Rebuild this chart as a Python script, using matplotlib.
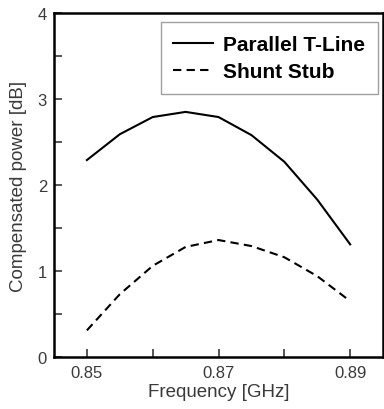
import matplotlib
matplotlib.use("Agg")
import matplotlib.pyplot as plt

plt.rcParams['font.family'] = ['Liberation Sans', 'DejaVu Sans']

freq = [0.85, 0.855, 0.86, 0.865, 0.87, 0.875, 0.88, 0.885, 0.89]
parallel_tline = [2.29, 2.59, 2.79, 2.85, 2.79, 2.58, 2.27, 1.83, 1.31]
shunt_stub = [0.31, 0.73, 1.06, 1.28, 1.36, 1.29, 1.16, 0.94, 0.65]

x_ticks = [0.85, 0.86, 0.87, 0.88, 0.89]
x_labels = ["0.85", "", "0.87", "", "0.89"]
y_ticks = [0, 1, 2, 3, 4]

fig = plt.figure(figsize=(3.84, 4.10), dpi=100)
ax = fig.add_axes([0.1406, 0.1268, 0.857, 0.8391])

ax.plot(freq, parallel_tline, color="black", lw=1.5, label="Parallel T-Line")
ax.plot(freq, shunt_stub, color="black", lw=1.5, ls=(0, (4, 2.5)), label="Shunt Stub")

ax.set_xlim(0.845, 0.895)
ax.set_ylim(0, 4)
ax.set_xticks(x_ticks)
ax.set_xticklabels(x_labels)
ax.set_yticks(y_ticks)
ax.set_yticks([0.5, 1.5, 2.5, 3.5], minor=True)
ax.tick_params(which="both", direction="in", length=6, width=1.2, labelsize=12, colors="#3a3a3a")
ax.tick_params(axis="x", pad=6)
ax.tick_params(axis="y", pad=5)
for s in ax.spines.values():
    s.set_linewidth(1.8)

ax.set_xlabel("Frequency [GHz]", fontsize=13.5, color="#3a3a3a", labelpad=2)
ax.set_ylabel("Compensated power [dB]", fontsize=13.5, color="#3a3a3a", labelpad=8)

leg = ax.legend(loc="upper right", bbox_to_anchor=(0.997, 0.985),
                prop={"weight": "bold", "size": 15}, fancybox=False,
                edgecolor="#888888", handlelength=1.9, handletextpad=0.5,
                borderpad=0.6, labelspacing=0.4, borderaxespad=0.2)
leg.get_frame().set_linewidth(1.0)

fig.savefig("out.png", dpi=100)
